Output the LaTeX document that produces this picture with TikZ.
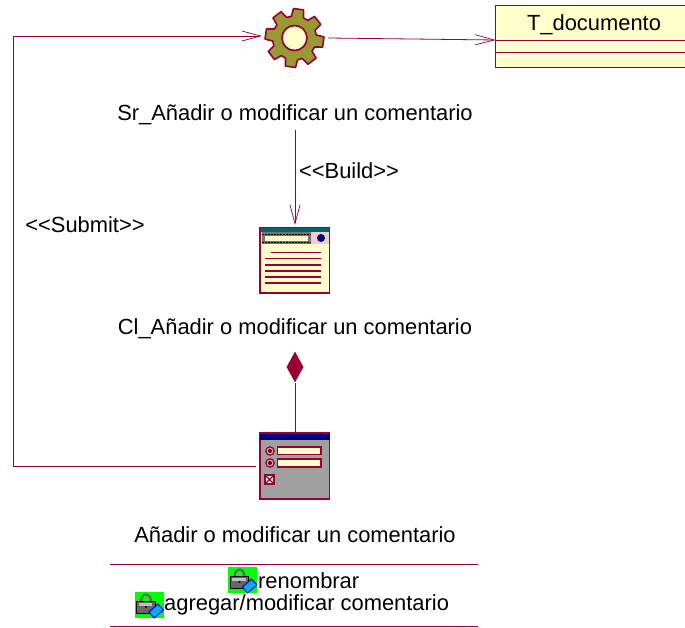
\documentclass[tikz,border=0pt]{standalone}
\usepackage{fontspec}
\setmainfont{Liberation Sans}
\usetikzlibrary{arrows.meta,shapes.geometric}
\definecolor{rline}{HTML}{990033}
\definecolor{cream}{HTML}{FFFFCC}
\definecolor{olive1}{HTML}{999933}
\definecolor{graybg}{HTML}{A0A0A0}
\definecolor{navyb}{HTML}{000080}
\definecolor{tealb}{HTML}{006666}
\tikzset{
  lbl/.style={font=\fontsize{21.9}{24}\selectfont,text=black,inner sep=0pt,align=center},
  conn/.style={draw=rline,line width=0.8pt},
  openarrow/.style={conn,-{Straight Barb[length=19pt,width=17pt,line width=0.7pt,angle'=30]}},
  iconbox/.style={minimum width=69.5pt,minimum height=65.5pt,inner sep=0pt,draw=rline,line width=1.6pt},
  sep/.style={draw=rline,line width=0.9pt},
  lockicon/.pic={
    \fill[green] (-14.5,-13) rectangle (14.5,13);
    \draw[black!60,line width=2.2pt] (-8,-3) .. controls (-8,-13) and (2,-13) .. (2,-3);
    \fill[black!60,draw=black,line width=0.8pt] (-12.5,-4) rectangle (6,8);
    \fill[black!25] (-10.5,-2.5) rectangle (3,1);
    \fill[black] (-3,2) circle (1.2);
    \fill[cyan,draw=blue,line width=1pt] (0,7) -- (9,-1) -- (14.5,5) -- (5,13) -- cycle;
  }
}
\begin{document}
\begin{tikzpicture}[x=1pt,y=-1pt]
\useasboundingbox (0,0) rectangle (685,628);

% gear
\coordinate (gearc) at (294.5,38);
\begin{scope}[shift={(gearc)}]
\draw[fill=olive1,draw=rline,line width=1.6pt,line join=round]
  (-97:22) \foreach \a in {-82,-37,8,53,98,143,188,233} { -- (\a-16:22) -- (\a-10:29.5) -- (\a+10:29.5) -- (\a+16:22) } -- cycle;
\draw[fill=cream,draw=rline,line width=1.7pt] (0,0) circle (12.5);
\end{scope}
\node[minimum size=66pt,inner sep=0pt] (gear) at (gearc) {};

% class
\path[fill=cream] (495.5,6) rectangle (692,68);
\draw[rline,line width=1pt] (692,6) -- (495.5,6) -- (495.5,68) -- (692,68);
\draw[rline,line width=0.8pt] (495.5,40) -- (692,40) (495.5,52) -- (692,52);
\node[lbl] (tdoc) at (594,25) {T\_documento};
\coordinate (tdocw) at (495.5,40);

% client page icon
\node[iconbox,fill=cream] (client) at (294.8,260.5) {};
\fill[tealb] (261,228.5) rectangle (329,232);
\fill[black!10!pink!60] (311,232) rectangle (329,244);
\fill[black!55] (262,232.5) rectangle (311,244);
\fill[cream] (265,236) rectangle (308,241);
\draw[black,line width=1.4pt,dash pattern=on 1.5pt off 1.5pt] (262,234.5) -- (311,234.5) (262,242.5) -- (311,242.5);
\fill[navyb] (321,238) circle (4);
\draw[rline,line width=1.1pt] (271,252.5) -- (321,252.5)
  (265,258.5) -- (321,258.5) (265,265) -- (321,265) (265,271) -- (321,271) (265,277) -- (321,277) (265,283) -- (321,283);

% form icon
\node[iconbox,fill=graybg] (form) at (294.8,466) {};
\fill[navyb] (260,433.5) rectangle (329.5,439.5);
\foreach \yy in {451,463} {
  \fill[black!15!pink,draw=rline,line width=1.2pt] (270,\yy) circle (4.2);
  \fill[rline!70!black] (270,\yy) circle (2);
}
\draw[fill=cream,draw=rline,line width=1.2pt] (277.5,447) rectangle (321,454.5);
\draw[fill=cream,draw=rline,line width=1.2pt] (277.5,459) rectangle (321,467);
\draw[fill=cream,draw=rline,line width=1.2pt] (265,475) rectangle (274,484);
\draw[rline,line width=1.2pt] (265,475) -- (274,484) (265,484) -- (274,475);

% labels
\node[lbl] (srl) at (295,114.5) {Sr\_Añadir o modificar un comentario};
\node[lbl] (cll) at (295,328.5) {Cl\_Añadir o modificar un comentario};
\node[lbl] (fml) at (295,534.5) {Añadir o modificar un comentario};
\node[lbl] (build) at (349,171) {<{}<Build>{}>};
\node[lbl] (submit) at (85,225) {<{}<Submit>{}>};

% connectors
\coordinate (corner1) at (13,466);
\coordinate (corner2) at (13,36);
\coordinate (gearw) at (262,36);
\coordinate (formw) at (256,466);
\coordinate (geare) at (328,38);
\coordinate (srb) at (295,130);
\coordinate (clt) at (295,225);
\draw[openarrow] (geare) -- (tdocw);
\draw[openarrow] (srb) -- (clt);
\draw[openarrow] (formw) -- (corner1) -- (corner2) -- (gearw);
\node[diamond,aspect=0.56,fill=rline,inner sep=0pt,minimum width=17pt,minimum height=31pt] (comp) at (295,367) {};
\draw[conn] (form.north -| comp) -- (comp.south);

% attribute compartment
\coordinate (ra) at (110,564); \coordinate (rb) at (478,564);
\coordinate (rc) at (110,626); \coordinate (rd) at (478,626);
\draw[sep] (ra) -- (rb);
\draw[sep] (rc) -- (rd);
\pic at (242.5,580) {lockicon};
\pic at (149,605) {lockicon};
\node[lbl,anchor=west] (a1) at (258,581) {renombrar};
\node[lbl,anchor=west] (a2) at (164,605) {agregar/modificar comentario};
\end{tikzpicture}
\end{document}
